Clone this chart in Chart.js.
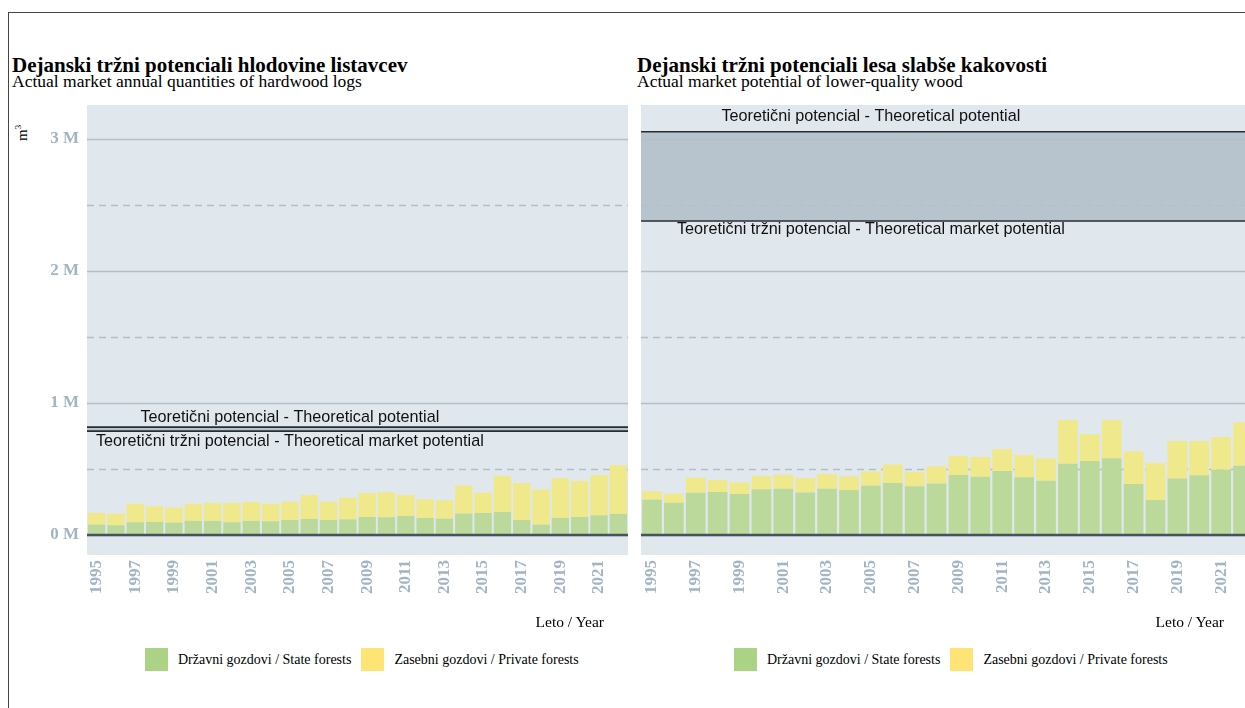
<!DOCTYPE html>
<html>
<head>
<meta charset="utf-8">
<script src="https://cdn.jsdelivr.net/npm/chart.js@4.4.1/dist/chart.umd.min.js"></script>
<style>
  html, body { margin: 0; padding: 0; background: #fff; overflow: hidden; }
  #page { position: relative; width: 1245px; height: 708px; overflow: hidden; }
  .frame { position: absolute; left: 8px; top: 12px; width: 1250px; height: 710px; border-left: 1px solid #444; border-top: 1px solid #444; }
  .title { position: absolute; font-family: "Liberation Serif", serif; font-weight: bold; font-size: 21px; line-height: 21px; color: #000; white-space: nowrap; }
  .sub { position: absolute; font-family: "Liberation Serif", serif; font-size: 17.5px; line-height: 17.5px; color: #000; white-space: nowrap; }
  .xlab { position: absolute; font-family: "Liberation Serif", serif; font-size: 15.5px; line-height: 16px; color: #000; white-space: nowrap; }
  .ylab { position: absolute; left: 9px; top: 119px; width: 26px; font-family: "Liberation Serif", serif; font-size: 15px; color: #000; transform: rotate(-90deg); transform-origin: center; }
  .legend { position: absolute; top: 648px; height: 23px; display: flex; align-items: center; font-family: "Liberation Serif", serif; font-size: 14px; color: #000; white-space: nowrap; }
  .legend .sw { width: 23px; height: 23px; margin-right: 10px; }
  .legend .gap { width: 10px; }
  canvas { position: absolute; }
</style>
</head>
<body>
<div id="page">
  <div class="frame"></div>

  <div class="title" style="left:12px; top:55px;">Dejanski tržni potenciali hlodovine listavcev</div>
  <div class="sub" style="left:12px; top:73px;">Actual market annual quantities of hardwood logs</div>
  <div class="title" style="left:637px; top:55px;">Dejanski tržni potenciali lesa slabše kakovosti</div>
  <div class="sub" style="left:637px; top:73px;">Actual market potential of lower-quality wood</div>

  <div class="ylab">m<sup style="font-size:9px">3</sup></div>

  <canvas id="chartLeft" width="618" height="520" style="left:10px; top:100px;"></canvas>
  <canvas id="chartRight" width="613" height="520" style="left:641px; top:100px;"></canvas>

  <div class="xlab" style="right:641px; top:614px;">Leto / Year</div>
  <div class="xlab" style="right:21px; top:614px;">Leto / Year</div>

  <div class="legend" style="left:145px;">
    <div class="sw" style="background:#acd385"></div><span>Državni gozdovi / State forests</span>
    <div class="gap"></div>
    <div class="sw" style="background:#fde474"></div><span>Zasebni gozdovi / Private forests</span>
  </div>
  <div class="legend" style="left:734px;">
    <div class="sw" style="background:#acd385"></div><span>Državni gozdovi / State forests</span>
    <div class="gap"></div>
    <div class="sw" style="background:#fde474"></div><span>Zasebni gozdovi / Private forests</span>
  </div>
</div>

<script>
// ---- data (thousand m3) ----
const years = ['1995','1996','1997','1998','1999','2000','2001','2002','2003','2004','2005','2006','2007','2008',
               '2009','2010','2011','2012','2013','2014','2015','2016','2017','2018','2019','2020','2021','2022'];
const tickYears = ['1995','1997','1999','2001','2003','2005','2007','2009','2011','2013','2015','2017','2019','2021'];

// hlodovina listavcev (hardwood logs)
const hardwoodState   = [78, 73, 96, 98, 93, 106, 106, 96, 106, 103, 113, 121, 113, 118, 136, 134, 144, 128, 123, 161, 166, 174, 113, 78, 128, 136, 149, 159];
const hardwoodPrivate = [90, 88, 141, 119, 114, 131, 136, 146, 143, 134, 139, 181, 139, 164, 181, 191, 158, 142, 139, 214, 154, 274, 280, 267, 303, 272, 304, 368];
const hardwoodTheo    = [816, 786];   // teoreticni potencial, teoreticni trzni potencial

// les slabse kakovosti (lower-quality wood)
const lowqState   = [267, 244, 320, 325, 310, 345, 350, 322, 350, 340, 373, 393, 368, 389, 454, 441, 484, 436, 411, 539, 559, 580, 385, 264, 428, 451, 494, 524];
const lowqPrivate = [64, 68, 113, 91, 88, 101, 106, 109, 111, 103, 108, 141, 110, 131, 143, 149, 166, 169, 169, 330, 204, 289, 248, 280, 283, 260, 247, 328];
const lowqTheo    = [3053, 2377];

const yTicks      = [0, 1000, 2000, 3000];
const yTickLabels = ['0 M', '1 M', '2 M', '3 M'];
const yMinor      = [500, 1500, 2500];
const theoLabels  = ['Teoretični potencial - Theoretical potential', 'Teoretični tržni potencial - Theoretical market potential'];

const GREEN  = '#bcd99c';
const YELLOW = '#efe98b';
const TICKC  = '#a3b4c2';

// ozadje, mreza, teoreticne crte
const panelDecor = {
  id: 'panelDecor',
  beforeDraw(chart, args, o) {
    const { ctx, chartArea: a, scales: { y } } = chart;
    const w = a.right - a.left;
    ctx.save();
    ctx.fillStyle = '#e0e7ed';
    ctx.fillRect(a.left, a.top, w, a.bottom - a.top);

    // pas med teoreticnima potencialoma
    const y1 = y.getPixelForValue(o.theo[0]), y2 = y.getPixelForValue(o.theo[1]);
    ctx.fillStyle = '#b8c4cd';
    ctx.fillRect(a.left, y1, w, y2 - y1);

    ctx.strokeStyle = '#b3c0ca';
    ctx.lineWidth = 1.3;
    yTicks.forEach(v => {
      const py = Math.round(y.getPixelForValue(v)) + 0.5;
      ctx.beginPath(); ctx.moveTo(a.left, py); ctx.lineTo(a.right, py); ctx.stroke();
    });
    ctx.setLineDash([7, 5]);
    yMinor.forEach(v => {
      const py = Math.round(y.getPixelForValue(v)) + 0.5;
      ctx.beginPath(); ctx.moveTo(a.left, py); ctx.lineTo(a.right, py); ctx.stroke();
    });
    ctx.restore();
  },
  afterDatasetsDraw(chart, args, o) {
    const { ctx, chartArea: a, scales: { x, y } } = chart;
    ctx.save();
    // nicla
    ctx.strokeStyle = '#46535d';
    ctx.lineWidth = 2.5;
    const y0 = y.getPixelForValue(0);
    ctx.beginPath(); ctx.moveTo(a.left, y0); ctx.lineTo(a.right, y0); ctx.stroke();

    ctx.strokeStyle = '#262e33';
    ctx.lineWidth = 1.6;
    o.theo.forEach(v => {
      const py = y.getPixelForValue(v);
      ctx.beginPath(); ctx.moveTo(a.left, py); ctx.lineTo(a.right, py); ctx.stroke();
    });

    ctx.fillStyle = '#111';
    ctx.font = '16.2px "Liberation Sans", Arial, sans-serif';
    ctx.textAlign = 'center';
    ctx.textBaseline = 'middle';
    const cx = x.getPixelForValue(years.indexOf('2005'));
    theoLabels.forEach((t, i) => {
      ctx.fillText(t, cx, y.getPixelForValue(o.theo[i]) + o.labelOffsets[i]);
    });
    ctx.restore();
  }
};

function makePanel(id, state, priv, theo, labelOffsets, showY) {
  return new Chart(document.getElementById(id), {
    type: 'bar',
    data: {
      labels: years,
      datasets: [
        { label: 'Državni gozdovi / State forests', data: state, backgroundColor: GREEN, borderWidth: 0 },
        { label: 'Zasebni gozdovi / Private forests', data: priv, backgroundColor: YELLOW, borderWidth: 0 }
      ]
    },
    options: {
      responsive: false,
      animation: false,
      layout: { padding: { top: 5, left: 0, right: 0, bottom: 0 } },
      datasets: { bar: { barPercentage: 0.9, categoryPercentage: 1 } },
      plugins: {
        legend: { display: false },
        tooltip: { enabled: false },
        panelDecor: { theo, labelOffsets }
      },
      scales: {
        x: {
          stacked: true,
          grid: { display: false, drawTicks: false },
          border: { display: false },
          ticks: {
            autoSkip: false, maxRotation: 90, minRotation: 90, padding: 5,
            color: TICKC, font: { family: '"Liberation Serif", serif', size: 17, weight: 'bold' },
            callback: (v, i) => tickYears.includes(years[i]) ? years[i] : ''
          },
          afterFit: s => { s.height = 65; s.paddingLeft = 0; s.paddingRight = 0; }
        },
        y: {
          stacked: true,
          display: showY,
          min: -152, max: 3255,
          grid: { display: false, drawTicks: false },
          border: { display: false },
          afterBuildTicks: s => { s.ticks = yTicks.map(v => ({ value: v })); },
          ticks: {
            padding: 8, color: TICKC,
            font: { family: '"Liberation Serif", serif', size: 17, weight: 'bold' },
            callback: v => yTickLabels[yTicks.indexOf(v)]
          },
          afterFit: s => { s.width = showY ? 77 : 0; s.paddingTop = 0; s.paddingBottom = 0; }
        }
      }
    },
    plugins: [panelDecor]
  });
}

makePanel('chartLeft', hardwoodState, hardwoodPrivate, hardwoodTheo, [-10, 10], true);
makePanel('chartRight', lowqState, lowqPrivate, lowqTheo, [-15, 9], false);
</script>
</body>
</html>
